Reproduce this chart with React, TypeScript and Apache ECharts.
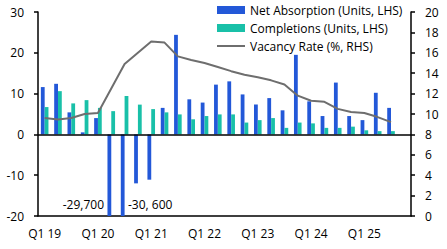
import React, { useEffect, useRef } from "react";
import * as echarts from "echarts";

const categories = [
  "Q1 19", "Q2 19", "Q3 19", "Q4 19",
  "Q1 20", "Q2 20", "Q3 20", "Q4 20",
  "Q1 21", "Q2 21", "Q3 21", "Q4 21",
  "Q1 22", "Q2 22", "Q3 22", "Q4 22",
  "Q1 23", "Q2 23", "Q3 23", "Q4 23",
  "Q1 24", "Q2 24", "Q3 24", "Q4 24",
  "Q1 25", "Q2 25", "Q3 25", "Q4 25",
];

const netAbsorption = [
  11.6, 12.4, 5.4, 0.5, 4.0, -29.7, -30.6, -12.0, -11.1, 6.5,
  24.4, 8.6, 7.8, 12.2, 13.0, 9.8, 7.3, 8.9, 5.9, 19.5,
  8.1, 4.5, 12.7, 4.5, 3.5, 10.2, 6.5, null,
];

const completions = [
  6.7, 10.6, 7.6, 8.4, 6.5, 5.7, 9.4, 7.3, 6.2, 5.4,
  4.9, 3.7, 4.5, 4.9, 4.9, 2.9, 3.5, 4.0, 1.6, 2.9,
  2.7, 1.6, 1.6, 1.9, 1.0, 0.8, 0.8, null,
];

const vacancyRate = [
  9.6, 9.45, 9.6, 10.0, 10.1, 12.5, 14.9, 16.0, 17.1, 17.0,
  15.65, 15.3, 15.0, 14.6, 14.2, 13.85, 13.6, 13.3, 12.9, 11.8,
  11.3, 11.2, 10.5, 10.2, 10.1, 9.7, 9.2, null,
];

const seriesNames = [
  "Net Absorption (Units, LHS)",
  "Completions (Units, LHS)",
  "Vacancy Rate (%, RHS)",
];

const annotations = ["-29,700", "-30, 600"];

const FONT = "'Open Sans', 'Noto Sans', sans-serif";
const BLUE = "#2358d8";
const TEAL = "#19c0a8";
const GREY = "#6e6e6e";

export default function App() {
  const ref = useRef<HTMLDivElement>(null);

  useEffect(() => {
    document.body.style.margin = "0";
    if (!ref.current) return;
    const chart = echarts.init(ref.current, null, { renderer: "svg" });
    chart.setOption({
      animation: false,
      backgroundColor: "#ffffff",
      textStyle: { fontFamily: FONT },
      grid: { left: 38, right: 36, top: 12, bottom: 33, containLabel: false },
      legend: {
        orient: "vertical",
        left: 211,
        top: -1,
        itemWidth: 28,
        itemHeight: 8,
        itemGap: 6,
        textStyle: { fontFamily: FONT, fontSize: 12, color: "#000", lineHeight: 12 },
        data: [
          { name: seriesNames[0], icon: "rect" },
          { name: seriesNames[1], icon: "rect" },
          {
            name: seriesNames[2],
            itemStyle: { color: "rgba(0,0,0,0)", borderWidth: 0, opacity: 0 },
            lineStyle: { color: GREY, width: 2 },
          },
        ],
      },
      xAxis: {
        type: "category",
        data: categories,
        boundaryGap: true,
        axisLine: { onZero: false, lineStyle: { color: "#000", width: 1.5 } },
        axisTick: { interval: 3, length: 4, lineStyle: { color: "#000", width: 1.5 } },
        axisLabel: {
          interval: 3,
          margin: 11,
          fontSize: 12,
          color: "#000",
          fontFamily: FONT,
        },
        splitLine: { show: false },
      },
      yAxis: [
        {
          type: "value",
          min: -20,
          max: 30,
          interval: 10,
          position: "left",
          axisLine: { show: true, lineStyle: { color: "#000", width: 1.5 } },
          axisTick: { show: true, length: 4, lineStyle: { color: "#000", width: 1.5 } },
          axisLabel: { margin: 14, fontSize: 12, color: "#000", fontFamily: FONT },
          splitLine: { show: false },
        },
        {
          type: "value",
          min: 0,
          max: 20,
          interval: 2,
          position: "right",
          axisLine: { show: true, lineStyle: { color: "#000", width: 1.5 } },
          axisTick: { show: true, length: 4, lineStyle: { color: "#000", width: 1.5 } },
          axisLabel: { margin: 14, fontSize: 12, color: "#000", fontFamily: FONT },
          splitLine: { show: false },
        },
      ],
      series: [
        {
          name: seriesNames[0],
          type: "bar",
          yAxisIndex: 0,
          data: netAbsorption,
          barWidth: 3.8,
          barGap: "0%",
          clip: true,
          itemStyle: { color: BLUE },
          markLine: {
            silent: true,
            symbol: "none",
            label: { show: false },
            lineStyle: { color: "#000", width: 1.5, type: "solid" },
            data: [{ yAxis: 0 }],
          },
        },
        {
          name: seriesNames[1],
          type: "bar",
          yAxisIndex: 0,
          data: completions,
          barWidth: 3.8,
          barGap: "0%",
          itemStyle: { color: TEAL },
        },
        {
          name: seriesNames[2],
          type: "line",
          yAxisIndex: 1,
          data: vacancyRate,
          symbol: "none",
          lineStyle: { color: GREY, width: 2 },
          itemStyle: { color: GREY },
        },
      ],
      graphic: [
        {
          type: "text",
          right: 447 - 104,
          top: 198,
          style: { text: annotations[0], fontSize: 12, fontFamily: FONT, fill: "#000" },
        },
        {
          type: "text",
          left: 128,
          top: 198,
          style: { text: annotations[1], fontSize: 12, fontFamily: FONT, fill: "#000" },
        },
      ],
    });
    return () => chart.dispose();
  }, []);

  return <div ref={ref} style={{ width: 447, height: 249 }} />;
}
